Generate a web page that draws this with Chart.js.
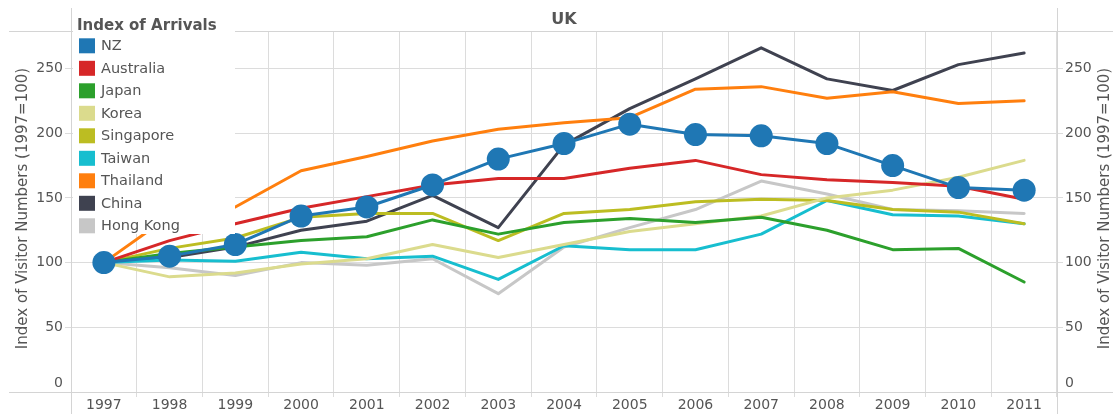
<!DOCTYPE html>
<html><head><meta charset="utf-8">
<script src="https://cdn.jsdelivr.net/npm/chart.js@4.4.1/dist/chart.umd.min.js"></script>
<style>html,body{margin:0;padding:0;background:#fff;overflow:hidden}#wrap{position:relative;width:1113px;height:414px}</style>
</head><body><div id="wrap"><canvas id="c" width="1113" height="414"></canvas></div>
<script>
const chartTitle = 'UK';
const legendTitle = 'Index of Arrivals';
const axisTitle = 'Index of Visitor Numbers (1997=100)';
const years = ['1997','1998','1999','2000','2001','2002','2003','2004','2005','2006','2007','2008','2009','2010','2011'];
const yTickValues = [0, 50, 100, 150, 200, 250];
const yMax = 279;

const nz        = [100,105,114,136,143,160,180,192,207,199,198,192,175,158,156];
const australia = [100,117,130,142,151,160,165,165,173,179,168,164,162,159,149];
const japan     = [100,107,112,117,120,133,122,131,134,131,135,125,110,111,85];
const korea     = [100,89,92,99,103,114,104,114,124,130,136,150,156,166,179];
const singapore = [100,111,119,135,138,138,117,138,141,147,149,148,141,139,130];
const taiwan    = [100,102,101,108,103,105,87,113,110,110,122,148,137,136,130];
const thailand  = [100,136,143,171,182,194,203,208,212,234,236,227,232,223,225];
const china     = [100,104,112,125,132,152,127,191,219,242,266,242,233,253,262];
const hongkong  = [100,96,90,100,98,103,76,112,127,141,163,153,141,140,138];

const seriesNames  = ['NZ','Australia','Japan','Korea','Singapore','Taiwan','Thailand','China','Hong Kong'];
const seriesData   = [nz, australia, japan, korea, singapore, taiwan, thailand, china, hongkong];
const seriesColors = ['#1f77b4','#d62728','#2ca02c','#dbdb8d','#bcbd22','#17becf','#ff7f0e','#3f4250','#c7c7c7'];

const FONT = '"DejaVu Sans", Verdana, sans-serif';
const TXT = '#555555';
const GRID = '#dcdcdc';

const datasets = seriesNames.map((name, i) => ({
  label: name,
  data: seriesData[i],
  borderColor: seriesColors[i],
  backgroundColor: seriesColors[i],
  borderWidth: 3,
  pointRadius: i === 0 ? 11.5 : 0,
  pointHoverRadius: i === 0 ? 11.5 : 0,
  pointBorderWidth: 0,
  pointBackgroundColor: seriesColors[i],
  borderJoinStyle: 'round',
  borderCapStyle: 'round',
  tension: 0,
  fill: false
}));

const framePlugin = {
  id: 'frame',
  beforeDatasetsDraw(chart) {
    const ctx = chart.ctx, a = chart.chartArea;
    ctx.save();
    ctx.strokeStyle = '#d4d4d4';
    ctx.lineWidth = 1;
    ctx.beginPath();
    ctx.moveTo(9, Math.round(a.top) + 0.5); ctx.lineTo(chart.width, Math.round(a.top) + 0.5);
    ctx.moveTo(9, Math.round(a.bottom) + 0.5); ctx.lineTo(chart.width, Math.round(a.bottom) + 0.5);
    ctx.moveTo(Math.round(a.left) + 0.5, 8); ctx.lineTo(Math.round(a.left) + 0.5, chart.height);
    ctx.moveTo(Math.round(a.right) + 0.5, 8); ctx.lineTo(Math.round(a.right) + 0.5, chart.height);
    ctx.stroke();
    ctx.restore();
  },
  afterDatasetsDraw(chart) {
    const ctx = chart.ctx, a = chart.chartArea;
    ctx.save();
    // zero labels (lifted above the bottom line)
    const yl = chart.scales.y, yr = chart.scales.y2;
    ctx.font = '14px ' + FONT;
    ctx.fillStyle = TXT;
    ctx.textBaseline = 'middle';
    ctx.textAlign = 'right';
    ctx.fillText(String(yTickValues[0]), yl.right - 8, yl.getPixelForValue(yTickValues[0]) - 9);
    ctx.textAlign = 'left';
    ctx.fillText(String(yTickValues[0]), yr.left + 8, yr.getPixelForValue(yTickValues[0]) - 9);

    // chart title
    ctx.font = 'bold 16px ' + FONT;
    ctx.textAlign = 'center';
    ctx.fillText(chartTitle, (a.left + a.right) / 2, 20);

    // axis titles (both read bottom-to-top)
    ctx.font = '15px ' + FONT;
    const cy = (a.top + a.bottom) / 2 - 3;
    ctx.save();
    ctx.translate(23, cy); ctx.rotate(-Math.PI / 2);
    ctx.textAlign = 'center'; ctx.fillText(axisTitle, 0, 0);
    ctx.restore();
    ctx.save();
    ctx.translate(1105, cy); ctx.rotate(-Math.PI / 2);
    ctx.textAlign = 'center'; ctx.fillText(axisTitle, 0, 0);
    ctx.restore();

    // legend
    ctx.fillStyle = '#ffffff';
    ctx.fillRect(73, 16, 162, 218);
    ctx.fillStyle = TXT;
    ctx.textAlign = 'left';
    ctx.font = 'bold 15px ' + FONT;
    ctx.fillText(legendTitle, 77, 26.5);
    ctx.font = '14.5px ' + FONT;
    chart.data.datasets.forEach((ds, i) => {
      const y = 45.8 + i * 22.5;
      ctx.fillStyle = ds.borderColor;
      ctx.fillRect(79, y - 7.5, 16, 15);
      ctx.fillStyle = TXT;
      ctx.fillText(ds.label, 101, y + 0.5);
    });
    ctx.restore();
  }
};

new Chart(document.getElementById('c'), {
  type: 'line',
  data: { labels: years, datasets },
  options: {
    responsive: false,
    devicePixelRatio: 1,
    animation: false,
    events: [],
    layout: { padding: { top: 31, left: 0, right: 0, bottom: 0 } },
    plugins: { legend: { display: false }, title: { display: false }, tooltip: { enabled: false } },
    scales: {
      x: {
        type: 'category',
        offset: true,
        grid: { offset: true, color: GRID, lineWidth: 1, tickLength: 5, drawTicks: true },
        border: { display: false },
        ticks: { color: TXT, font: { family: FONT, size: 14 }, padding: 0, maxRotation: 0, autoSkip: false },
        afterFit(s) { s.height = 22; }
      },
      y: {
        position: 'left',
        min: 0, max: yMax,
        grid: { color: GRID, lineWidth: 1, tickLength: 6 },
        border: { display: false },
        ticks: { stepSize: 50, includeBounds: false, color: TXT, font: { family: FONT, size: 14 }, padding: 2,
                 callback: v => (v === yTickValues[0] ? '' : String(v)) },
        afterFit(s) { s.width = 71; }
      },
      y2: {
        position: 'right',
        min: 0, max: yMax,
        grid: { drawOnChartArea: false, color: GRID, lineWidth: 1, tickLength: 6 },
        border: { display: false },
        ticks: { stepSize: 50, includeBounds: false, color: TXT, font: { family: FONT, size: 14 }, padding: 2,
                 callback: v => (v === yTickValues[0] ? '' : String(v)) },
        afterFit(s) { s.width = 56; }
      }
    }
  },
  plugins: [framePlugin]
});
</script>
</body></html>
